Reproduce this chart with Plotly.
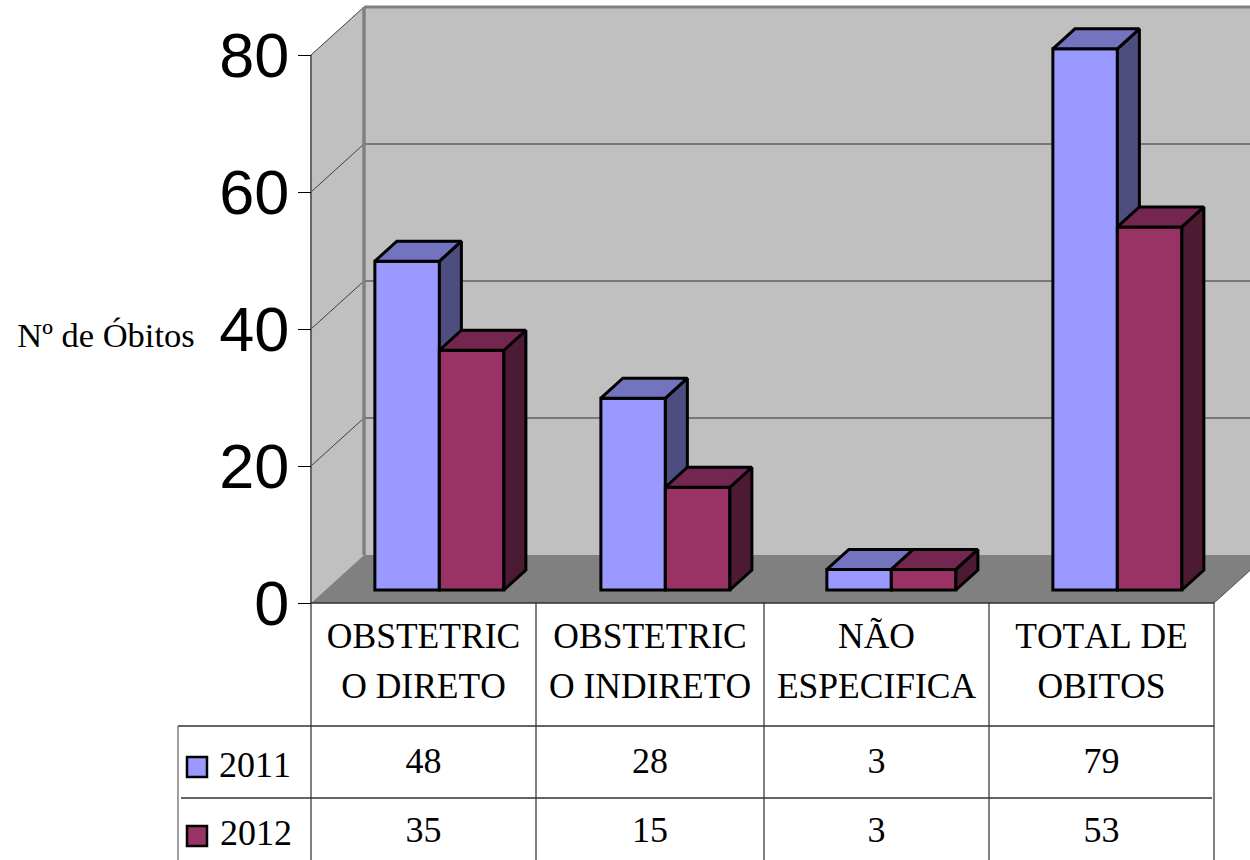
import plotly.graph_objects as go

# ---- data ----
categories_line1 = ["OBSTETRIC", "OBSTETRIC", "NÃO", "TOTAL DE"]
categories_line2 = ["O DIRETO", "O INDIRETO", "ESPECIFICA", "OBITOS"]
series_names = ["2011", "2012"]
values_2011 = [48, 28, 3, 79]
values_2012 = [35, 15, 3, 53]
y_ticks = [0, 20, 40, 60, 80]
y_title = "Nº de Óbitos"

COL_2011 = dict(front="#9999FF", top="#7373BF", side="#4D4D80")
COL_2012 = dict(front="#993366", top="#732650", side="#4D1A33")
SERIF = "Liberation Serif"
SANS = "Liberation Sans"

# ---- scales: page pixel -> axis units ----
W, H = 1250, 860
X0, CAT_W = 311.0, 225.75
Y0, UNIT = 603.0, 6.85
def ux(px): return (px - X0) / CAT_W
def uy(py): return (Y0 - py) / UNIT
def dxu(px): return px / CAT_W
def dyu(px): return px / UNIT

XR = [ux(0), ux(W)]
YR = [uy(H), uy(0)]
BACK_DX, BACK_DY = dxu(53), dyu(48)
BAR_W = dxu(64.5)
BAR_SHIFT = dxu(15.5)
BAR_STEP = 226.0 / CAT_W
BASE = dyu(13)
DEPTH_X, DEPTH_Y = dxu(22), dyu(20)
N = len(categories_line1)
TABLE_EDGES = [ux(p) for p in (311, 536, 764, 989, 1214)]

fig = go.Figure()

def poly(xs, ys, fill, line="rgba(0,0,0,0)", lw=0, ax=("x", "y")):
    fig.add_trace(go.Scatter(x=xs, y=ys, mode="lines", fill="toself", fillcolor=fill,
                             line=dict(color=line, width=lw), hoverinfo="skip",
                             showlegend=False, xaxis=ax[0], yaxis=ax[1]))

def seg(xs, ys, color, lw, ax=("x", "y")):
    fig.add_trace(go.Scatter(x=xs, y=ys, mode="lines", line=dict(color=color, width=lw),
                             hoverinfo="skip", showlegend=False, xaxis=ax[0], yaxis=ax[1]))

def label(x, y, text, size, font=SERIF):
    fig.add_trace(go.Scatter(x=[x], y=[y], mode="text", text=[text], textposition="middle center",
                             textfont=dict(family=font, size=size, color="black"),
                             hoverinfo="skip", showlegend=False))

vmax = y_ticks[-1]
right = ux(W)
# walls and floor
poly([BACK_DX, N + BACK_DX, N + BACK_DX, BACK_DX], [BACK_DY, BACK_DY, vmax + BACK_DY, vmax + BACK_DY], "#C0C0C0")
poly([0, BACK_DX, BACK_DX, 0], [0, BACK_DY, vmax + BACK_DY, vmax], "#C0C0C0")
poly([0, BACK_DX, N + BACK_DX, N], [0, BACK_DY, BACK_DY, 0], "#808080")
# gridlines
for t in y_ticks[1:-1]:
    seg([BACK_DX, right], [t + BACK_DY, t + BACK_DY], "#606060", 1.5)
for t in y_ticks[1:]:
    seg([0, BACK_DX], [t, t + BACK_DY], "#404040", 1)
seg([BACK_DX, right], [vmax + BACK_DY, vmax + BACK_DY], "#808080", 3)
seg([BACK_DX, BACK_DX], [BACK_DY, vmax + BACK_DY], "#808080", 3.5)
seg([0, 0], [0, vmax], "#666666", 2)
seg([N, N + BACK_DX], [0, BACK_DY], "#505050", 1)

# data table
for e in TABLE_EDGES:
    seg([e, e], [0, uy(H)], "#808080", 2)
seg([ux(178), ux(178)], [uy(726), uy(H)], "#808080", 1.5)
seg([0, N], [0, 0], "#303030", 1.5)
seg([ux(178), N], [uy(726), uy(726)], "#303030", 1.5)
seg([ux(181), N - dxu(2)], [uy(798), uy(798)], "#303030", 1.5)
for i in range(N):
    cx = (TABLE_EDGES[i] + TABLE_EDGES[i + 1]) / 2
    label(cx, uy(639), categories_line1[i], 35.5)
    label(cx, uy(689), categories_line2[i], 35.5)
    label(cx, uy(764), str(values_2011[i]), 36)
    label(cx, uy(833), str(values_2012[i]), 36)
label(ux(255), uy(768), series_names[0], 36)
label(ux(256), uy(836), series_names[1], 36)
label(ux(106), uy(338), y_title, 34.5)
for yy, c in ((767, COL_2011), (836, COL_2012)):
    fig.add_trace(go.Scatter(x=[ux(197)], y=[uy(yy)], mode="markers",
                             marker=dict(symbol="square", size=20, color=c["front"],
                                         line=dict(color="black", width=2.5)),
                             hoverinfo="skip", showlegend=False))

# bars: one overlay axis pair per series so later faces cover earlier ones
def bars(name, vals, lefts, col, ax):
    fig.add_trace(go.Bar(x=[l + BAR_W / 2 for l in lefts], y=vals, base=BASE, width=BAR_W, name=name,
                         marker=dict(color=col["front"], line=dict(color="black", width=3)),
                         showlegend=False, xaxis=ax[0], yaxis=ax[1]))
    tx, ty, sx, sy = [], [], [], []
    for l, v in zip(lefts, vals):
        r = l + BAR_W
        top = BASE + v
        tx += [l, l + DEPTH_X, r + DEPTH_X, r, l, None]
        ty += [top, top + DEPTH_Y, top + DEPTH_Y, top, top, None]
        sx += [r, r + DEPTH_X, r + DEPTH_X, r, r, None]
        sy += [top, top + DEPTH_Y, BASE + DEPTH_Y, BASE, top, None]
    poly(sx, sy, col["side"], "black", 3, ax)
    poly(tx, ty, col["top"], "black", 3, ax)

centers = [0.5 + i * BAR_STEP + BAR_SHIFT for i in range(N)]
bars(series_names[0], values_2011, [c - BAR_W for c in centers], COL_2011, ("x2", "y2"))
bars(series_names[1], values_2012, centers, COL_2012, ("x3", "y3"))

hidden_x = dict(range=XR, visible=False, fixedrange=True)
hidden_y = dict(range=YR, visible=False, fixedrange=True)
fig.update_layout(
    width=W, height=H, margin=dict(l=0, r=0, t=0, b=0, pad=0),
    paper_bgcolor="white", plot_bgcolor="white", showlegend=False,
    barmode="overlay", hovermode=False,
    xaxis=dict(domain=[0, 1], **hidden_x),
    yaxis=dict(domain=[0, 1], range=YR, anchor="free", position=X0 / W, side="left",
               tickmode="array", tickvals=y_ticks, ticks="outside", ticklen=13, tickwidth=1,
               tickcolor="black", showgrid=False, zeroline=False, showline=False,
               tickfont=dict(family=SANS, size=63, color="black"), ticklabelstandoff=-4, fixedrange=True),
    xaxis2=dict(overlaying="x", anchor="y2", **hidden_x),
    yaxis2=dict(overlaying="y", anchor="x2", **hidden_y),
    xaxis3=dict(overlaying="x", anchor="y3", **hidden_x),
    yaxis3=dict(overlaying="y", anchor="x3", **hidden_y),
)
fig.write_html("out.html", config=dict(displayModeBar=False),
               post_script="document.body.style.margin='0';document.body.style.fontKerning='none';document.documentElement.style.overflow='hidden';")
